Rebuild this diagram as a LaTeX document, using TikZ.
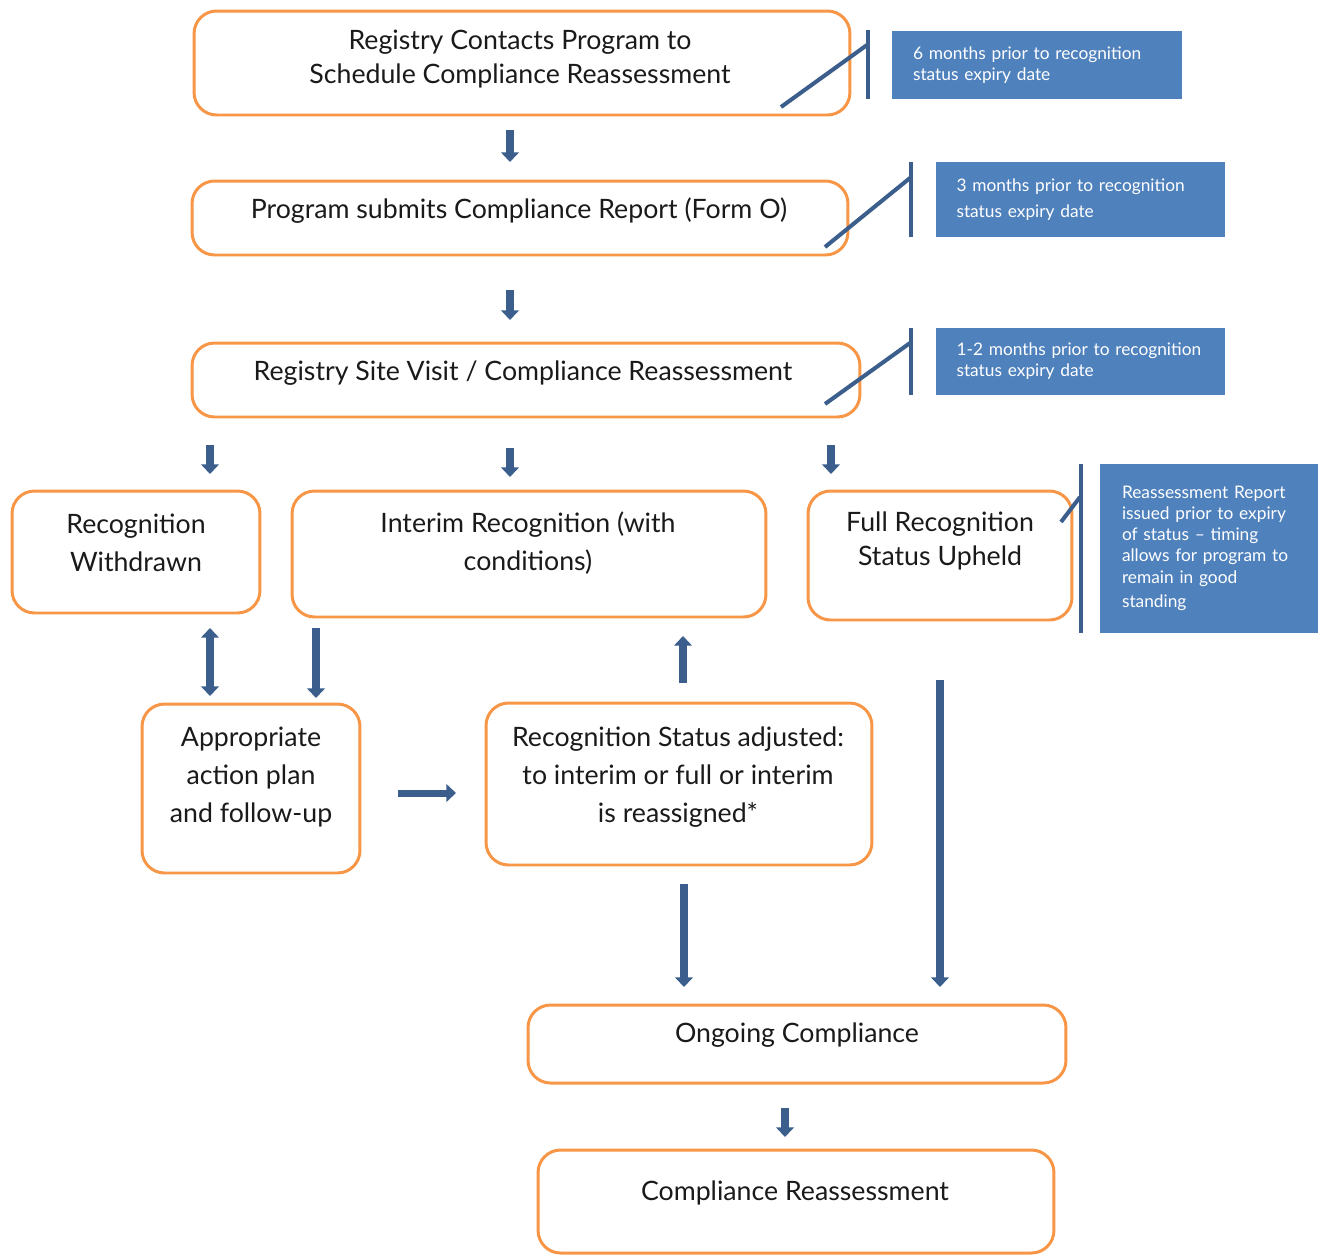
\documentclass[tikz,border=0pt]{standalone}
\usepackage{fontspec}
\setmainfont{Lato}
\usetikzlibrary{arrows.meta}
\definecolor{boxor}{HTML}{F79646}
\definecolor{callb}{HTML}{4F81BD}
\definecolor{arrc}{HTML}{3B5E8C}
\definecolor{txtc}{HTML}{1A1A1A}
\tikzset{
  box/.style={draw=boxor, line width=1.7pt, rounded corners=0.45cm, fill=white, inner sep=0pt},
  txt/.style={font=\fontsize{15.2}{19.5}\selectfont, text=txtc, align=center, inner sep=0pt},
  txtw/.style={font=\fontsize{15.2}{21.5}\selectfont, text=txtc, align=center, inner sep=0pt},
  call/.style={fill=callb, text=white, font=\fontsize{9.85}{12}\selectfont, align=left, inner xsep=0.42cm, inner ysep=0pt},
  arr/.style={draw=arrc, line width=4pt, -{Triangle[width=10pt,length=5.5pt]}},
  darr/.style={draw=arrc, line width=4pt, {Triangle[width=10pt,length=5.5pt]}-{Triangle[width=10pt,length=5.5pt]}},
  cline/.style={draw=arrc, line width=2.3pt}
}
\begin{document}
\begin{tikzpicture}[x=0.02cm,y=-0.02cm]
\useasboundingbox (0,0) rectangle (1325,1255);

% main boxes
\node[box, minimum width=13.12cm, minimum height=2.08cm] (b1) at (522,63) {};
\node[txt] (t1) at (520,59) {Registry Contacts Program to\\Schedule Compliance Reassessment};

\node[box, minimum width=13.12cm, minimum height=1.48cm] (b2) at (520,218) {};
\node[txt] (t2) at (519,211) {Program submits Compliance Report (Form O)};

\node[box, minimum width=13.36cm, minimum height=1.48cm] (b3) at (526,380) {};
\node[txt] (t3) at (523,373) {Registry Site Visit / Compliance Reassessment};

\node[box, minimum width=4.96cm, minimum height=2.44cm] (bw) at (136,552) {};
\node[txtw] (tw) at (136,543) {Recognition\\Withdrawn};

\node[box, minimum width=9.48cm, minimum height=2.52cm] (bi) at (529,554) {};
\node[txtw] (ti) at (528,543) {Interim Recognition (with\\conditions)};

\node[box, minimum width=5.28cm, minimum height=2.58cm] (bf) at (940,555.5) {};
\node[txt] (tf) at (940,541) {Full Recognition\\Status Upheld};

\node[box, minimum width=4.36cm, minimum height=3.38cm] (ba) at (251,788.5) {};
\node[txtw] (ta) at (251,777) {Appropriate\\action plan\\and follow-up};

\node[box, minimum width=7.72cm, minimum height=3.24cm] (br) at (679,784) {};
\node[txtw] (tr) at (678,777) {Recognition Status adjusted:\\to interim or full or interim\\is reassigned*};

\node[box, minimum width=10.76cm, minimum height=1.56cm] (bo) at (797,1044) {};
\node[txt] (to) at (797,1035) {Ongoing Compliance};

\node[box, minimum width=10.32cm, minimum height=2.06cm] (bc) at (796,1201.5) {};
\node[txt] (tc) at (795,1193) {Compliance Reassessment};

% callouts
\node[call, text width=4.96cm, minimum height=1.36cm] (c1) at (1037,65) {6 months prior to recognition\\status expiry date};
\node[call, text width=4.96cm, minimum height=1.50cm, font=\fontsize{9.85}{14.5}\selectfont] (c2) at (1080.5,199.5) {3 months prior to recognition\\status expiry date};
\node[call, text width=4.96cm, minimum height=1.34cm] (c3) at (1080.5,361.5) {1-2 months prior to recognition\\status expiry date};
\node[call, text width=3.48cm, minimum height=3.38cm, inner xsep=0.44cm] (c4) at (1209,548.5) {Reassessment Report\\issued prior to expiry\\of status -- timing\\allows for program to\\remain in good\\[2pt]standing};

% callout connector lines
\coordinate (v1a) at (868,30); \coordinate (v1b) at (868,99);
\coordinate (d1a) at (867,45); \coordinate (d1b) at (781,107);
\draw[cline] (v1a) -- (v1b);
\draw[cline] (d1a) -- (d1b);
\coordinate (v2a) at (911,162); \coordinate (v2b) at (911,237);
\coordinate (d2a) at (910,178); \coordinate (d2b) at (825,247);
\draw[cline] (v2a) -- (v2b);
\draw[cline] (d2a) -- (d2b);
\coordinate (v3a) at (911,328); \coordinate (v3b) at (911,395);
\coordinate (d3a) at (910,343); \coordinate (d3b) at (825,404);
\draw[cline] (v3a) -- (v3b);
\draw[cline] (d3a) -- (d3b);
\coordinate (v4a) at (1081,464); \coordinate (v4b) at (1081,633);
\coordinate (d4a) at (1080,497); \coordinate (d4b) at (1061,522);
\draw[cline] (v4a) -- (v4b);
\draw[cline] (d4a) -- (d4b);

% arrows
\coordinate (a1s) at (510,130); \coordinate (a1e) at (510,162);
\draw[arr] (a1s) -- (a1e);
\coordinate (a2s) at (510,290); \coordinate (a2e) at (510,320);
\draw[arr] (a2s) -- (a2e);
\coordinate (a3s) at (210,445); \coordinate (a3e) at (210,474);
\draw[arr] (a3s) -- (a3e);
\coordinate (a4s) at (510,448); \coordinate (a4e) at (510,477);
\draw[arr] (a4s) -- (a4e);
\coordinate (a5s) at (831,445); \coordinate (a5e) at (831,474);
\draw[arr] (a5s) -- (a5e);
\coordinate (a6s) at (210,628); \coordinate (a6e) at (210,696);
\draw[darr] (a6s) -- (a6e);
\coordinate (a7s) at (316,628); \coordinate (a7e) at (316,698);
\draw[arr] (a7s) -- (a7e);
\coordinate (a8s) at (398,793); \coordinate (a8e) at (456,793);
\draw[arr] (a8s) -- (a8e);
\coordinate (a9s) at (683,683); \coordinate (a9e) at (683,636);
\draw[arr] (a9s) -- (a9e);
\coordinate (a10s) at (940,680); \coordinate (a10e) at (940,987);
\draw[arr] (a10s) -- (a10e);
\coordinate (a11s) at (684,884); \coordinate (a11e) at (684,987);
\draw[arr] (a11s) -- (a11e);
\coordinate (a12s) at (785,1108); \coordinate (a12e) at (785,1137);
\draw[arr] (a12s) -- (a12e);
\end{tikzpicture}
\end{document}
